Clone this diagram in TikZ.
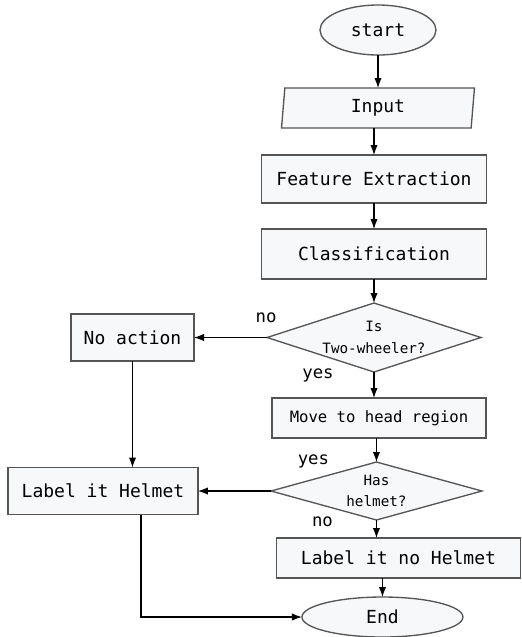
\documentclass[tikz,border=0pt]{standalone}
\usepackage{fontspec}
\setmainfont{DejaVu Sans Mono}
\usetikzlibrary{positioning}
\usetikzlibrary{shapes.geometric}
\usetikzlibrary{arrows.meta}
\definecolor{boxfill}{HTML}{F7F8FA}
\definecolor{boxline}{HTML}{555555}

\begin{document}
\begin{tikzpicture}[
term/.style={ellipse, draw=boxline, fill=boxfill, line width=1pt, inner sep=0pt, outer sep=0pt, minimum height=30pt, font=\fontsize{13.5}{15}\selectfont},
io/.style={trapezium, trapezium left angle=78.7, trapezium right angle=101.3, trapezium stretches body, draw=boxline, fill=boxfill, line width=1pt, inner sep=0pt, outer sep=0pt, minimum width=144.75pt, minimum height=30pt, font=\fontsize{13.5}{15}\selectfont},
rect/.style={rectangle, draw=boxline, fill=boxfill, line width=1pt, inner sep=0pt, outer sep=0pt, minimum height=35.25pt, font=\fontsize{13.5}{15}\selectfont},
choice/.style={diamond, draw=boxline, fill=boxfill, line width=1pt, inner sep=0pt, outer sep=0pt, aspect=3, align=center, font=\fontsize{10.7}{16}\selectfont},
lbl/.style={inner sep=0pt, font=\fontsize{13}{15}\selectfont},
arr/.style={-{Latex[length=7.5pt,width=5.5pt]}, line width=0.8pt},
]
\useasboundingbox (0,0) rectangle (391.5pt,-477.75pt);

\node[term, minimum width=87pt, minimum height=37.5pt] (start) at (283.5pt,-22.5pt) {start};
\node[io] (input) [below=24.75pt of start] {Input};
\node[rect, minimum width=168.75pt, minimum height=36pt] (feat) [below=20.25pt of input, xshift=-3pt] {Feature Extraction};
\node[rect, minimum width=168.75pt, minimum height=37.5pt] (classif) [below=19.5pt of feat] {Classification};

\node[choice, minimum width=160.5pt, minimum height=51.75pt] (wheel) [below=18pt of classif] {Is\\Two-wheeler?};
\node[rect, minimum width=92.25pt] (noact) [left=54.75pt of wheel] {No action};
\node[rect, minimum width=160.5pt, minimum height=30pt, font=\fontsize{11.7}{14}\selectfont] (move) [below=19.5pt of wheel, xshift=3.75pt] {Move to head region};

\node[choice, minimum width=158.25pt, minimum height=43.5pt] (helm) [below=18pt of move, xshift=-1.9pt] {Has\\helmet?};
\node[rect, minimum width=142.5pt] (lab_h) [left=54.75pt of helm] {Label it Helmet};
\node[rect, minimum width=183pt, minimum height=30pt] (lab_nh) [below=13.5pt of helm, xshift=16.5pt] {Label it no Helmet};
\node[term, minimum width=120.75pt] (stop) [below=14.25pt of lab_nh, xshift=-12pt] {End};

\node[lbl] (no1) at ([xshift=-0.75pt, yshift=15pt]wheel.west) {no};
\node[lbl] (yes1) at ([xshift=-42pt, yshift=-2.25pt]wheel.south) {yes};
\node[lbl] (yes2) at ([xshift=-47.25pt, yshift=0.75pt]helm.north) {yes};
\node[lbl] (no2) at ([xshift=-40.5pt, yshift=-1.5pt]helm.south) {no};

\draw[arr] (start.south) -- (start.south |- input.north);
\draw[arr] (feat.north |- input.south) -- (feat.north);
\draw[arr] (wheel.north |- feat.south) -- (classif.north -| wheel.north);
\draw[arr] (wheel.north |- classif.south) -- (wheel.north);

\draw[arr] (wheel.west) -- (noact.east);
\draw[arr] (wheel.south) -- (wheel.south |- move.north);
\draw[arr] (noact.south) -- (noact.south |- lab_h.north);

\draw[arr] (helm.north |- move.south) -- (helm.north);
\draw[arr] (helm.west) -- (lab_h.east);
\draw[arr] (helm.south) -- (helm.south |- lab_nh.north);

\draw[arr] (stop.north |- lab_nh.south) -- (stop.north);
\draw[arr] ([xshift=28.5pt]lab_h.south) |- (stop.west);
\end{tikzpicture}
\end{document}
